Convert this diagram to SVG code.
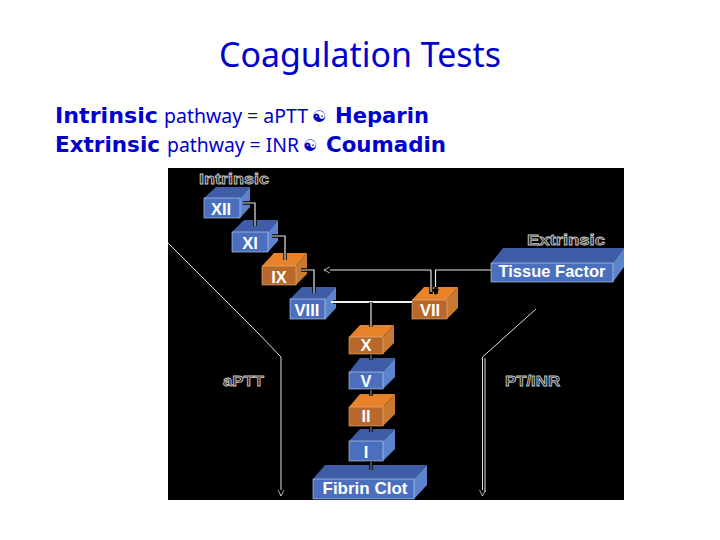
<svg xmlns="http://www.w3.org/2000/svg" width="720" height="540" viewBox="0 0 720 540">
<style>
text{font-family:"DejaVu Sans","Liberation Sans",sans-serif}
.t{fill:#0000cc}
.b{font-weight:bold;font-size:22px}
.r{font-size:20px;font-family:"Noto Sans","DejaVu Sans",sans-serif}
.lab{font-family:"Liberation Sans",Arial,sans-serif;font-weight:bold;fill:#fff;font-size:16.5px;text-anchor:middle}
.side{font-family:"Liberation Sans",Arial,sans-serif;font-size:15px;font-weight:bold;fill:#222;stroke:#c4c4c4;stroke-width:.8}
.blue .f{fill:#4a6fbe;stroke:#c9d5ee;stroke-width:.6}.blue .o{fill:#3f5ca6}.blue .s{fill:#5c83cc}
.org .f{fill:#b8682a;stroke:#dcb48a;stroke-width:.6}.org .o{fill:#e8832a}.org .s{fill:#c87a30}
.k{fill:none;stroke:#000;stroke-width:3.5}
.w{fill:none;stroke:#e6e6e6;stroke-width:1.2}
.v{fill:none;stroke:#e0e0e0;stroke-width:1}
.fat{fill:none;stroke:#f0f0f0;stroke-width:2}
</style>
<defs>
<marker id="a" markerWidth="8" markerHeight="8" refX="7" refY="4" orient="auto" markerUnits="userSpaceOnUse"><path d="M1 1L7 4L1 7" fill="#000" stroke="#ddd" stroke-width=".8"/></marker>
<marker id="d" markerWidth="8" markerHeight="8" refX="6" refY="4" orient="auto" markerUnits="userSpaceOnUse"><path d="M1 .5L7 4L1 7.5Z" fill="#000"/></marker>
</defs>
<rect width="720" height="540" fill="#fff"/>
<text x="360" y="67" text-anchor="middle" class="t" font-size="34" style="font-family:'Noto Sans','DejaVu Sans',sans-serif" textLength="282" lengthAdjust="spacingAndGlyphs">Coagulation Tests</text>
<text class="t b" x="55" y="123" textLength="103" lengthAdjust="spacingAndGlyphs">Intrinsic</text>
<text class="t r" x="164" y="123" textLength="144" lengthAdjust="spacingAndGlyphs">pathway = aPTT</text>
<text class="t" x="312" y="122" font-size="16">☯</text>
<text class="t b" x="335" y="123" textLength="94" lengthAdjust="spacingAndGlyphs">Heparin</text>
<text class="t b" x="55" y="152" textLength="105" lengthAdjust="spacingAndGlyphs">Extrinsic</text>
<text class="t r" x="167" y="152" textLength="132" lengthAdjust="spacingAndGlyphs">pathway = INR</text>
<text class="t" x="303" y="151" font-size="16">☯</text>
<text class="t b" x="326" y="152" textLength="120" lengthAdjust="spacingAndGlyphs">Coumadin</text>
<rect x="168" y="168" width="456" height="332" fill="#000"/>
<text class="side" x="199" y="184" textLength="70" lengthAdjust="spacingAndGlyphs">Intrinsic</text>
<text class="side" x="527" y="245" textLength="78" lengthAdjust="spacingAndGlyphs">Extrinsic</text>
<text class="side" x="223" y="386" textLength="41" lengthAdjust="spacingAndGlyphs">aPTT</text>
<text class="side" x="505" y="386" textLength="55" lengthAdjust="spacingAndGlyphs">PT/INR</text>
<g id="nodes">
<g id="n-xii" class="blue"><path class="o" d="M204 198L216 187H250L240 198Z"/><path class="s" d="M240 198L250 187V207L240 218Z"/><rect class="f" x="204" y="198" width="36" height="20"/><text class="lab" x="221" y="215">XII</text></g>
<g id="n-xi" class="blue"><path class="o" d="M232 232L244 220H278L268 232Z"/><path class="s" d="M268 232L278 220V241L268 252Z"/><rect class="f" x="232" y="232" width="36" height="20"/><text class="lab" x="250" y="249">XI</text></g>
<g id="n-ix" class="org"><path class="o" d="M262 266L274 253H307L296 266Z"/><path class="s" d="M296 266L307 253V274L296 285Z"/><rect class="f" x="262" y="266" width="34" height="19"/><text class="lab" x="279" y="283">IX</text></g>
<g id="n-viii" class="blue"><path class="o" d="M290 299L302 287H336L325 299Z"/><path class="s" d="M325 299L336 287V308L325 320Z"/><rect class="f" x="290" y="299" width="35" height="20"/><text class="lab" x="307" y="316">VIII</text></g>
<g id="n-vii" class="org"><path class="o" d="M412 300L424 287H458L447 300Z"/><path class="s" d="M447 300L458 287V308L447 319Z"/><rect class="f" x="412" y="300" width="35" height="19"/><text class="lab" x="430" y="316">VII</text></g>
<g id="n-tf" class="blue"><path class="o" d="M491 263L503 248H624L613 263Z"/><path class="s" d="M613 263L624 248V267L613 282Z"/><rect class="f" x="491" y="263" width="122" height="19"/><text class="lab" x="552" y="277" textLength="107" lengthAdjust="spacingAndGlyphs">Tissue Factor</text></g>
<g id="n-x" class="org"><path class="o" d="M349 337L360 325H394L383 337Z"/><path class="s" d="M383 337L394 325V343L383 354Z"/><rect class="f" x="349" y="337" width="34" height="17"/><text class="lab" x="366" y="351">X</text></g>
<g id="n-v" class="blue"><path class="o" d="M349 372L360 358H395L383 372Z"/><path class="s" d="M383 372L395 358V377L383 389Z"/><rect class="f" x="349" y="372" width="34" height="17"/><text class="lab" x="366" y="387">V</text></g>
<g id="n-ii" class="org"><path class="o" d="M349 407L360 394H395L383 407Z"/><path class="s" d="M383 407L395 394V414L383 426Z"/><rect class="f" x="349" y="407" width="34" height="19"/><text class="lab" x="366" y="422">II</text></g>
<g id="n-i" class="blue"><path class="o" d="M349 441L360 429H395L383 441Z"/><path class="s" d="M383 441L395 429V449L383 461Z"/><rect class="f" x="349" y="441" width="34" height="20"/><text class="lab" x="366" y="458">I</text></g>
<g id="n-fc" class="blue"><path class="o" d="M313 479L325 465H427L414 479Z"/><path class="s" d="M414 479L427 465V485L414 499Z"/><rect class="f" x="313" y="479" width="101" height="20"/><text class="lab" x="365" y="494" textLength="85" lengthAdjust="spacingAndGlyphs">Fibrin Clot</text></g>
</g>
<g id="connectors">
<path class="k" d="M243 203H255V226"/><path class="w" d="M243 203H255V226"/>
<path class="k" d="M272 236H285V260"/><path class="w" d="M272 236H285V260"/>
<path class="k" d="M301 270H314V293"/><path class="w" d="M301 270H314V293"/>
<path class="k" d="M431 270V294M436 270V294"/>
<path class="w" d="M491 270H435.5V292"/><path class="w" d="M431 270H324" marker-end="url(#a)"/><path class="w" d="M431 270V292"/>
<path d="M435.5 287V294" stroke="#000" stroke-width="1" marker-end="url(#d)"/>
<path class="k" d="M333 302H412"/><path class="fat" d="M331 302H412"/>
<path class="k" d="M371 302V327"/><path class="w" d="M371 302V327"/>
<path d="M371 354V360M371 389V396M371 426V432M371 461V470" stroke="#000" stroke-width="3.5" fill="none"/>
<path d="M371 354V360M371 389V396M371 426V432M371 461V470" stroke="#999" stroke-width="1" fill="none"/>
<path class="v" d="M168 243L258 333L281 357V496" marker-end="url(#a)"/>
<path class="v" d="M536 309L482.5 357V496" marker-end="url(#a)"/>
<path class="v" d="M485 358V492"/>
</g>
</svg>
